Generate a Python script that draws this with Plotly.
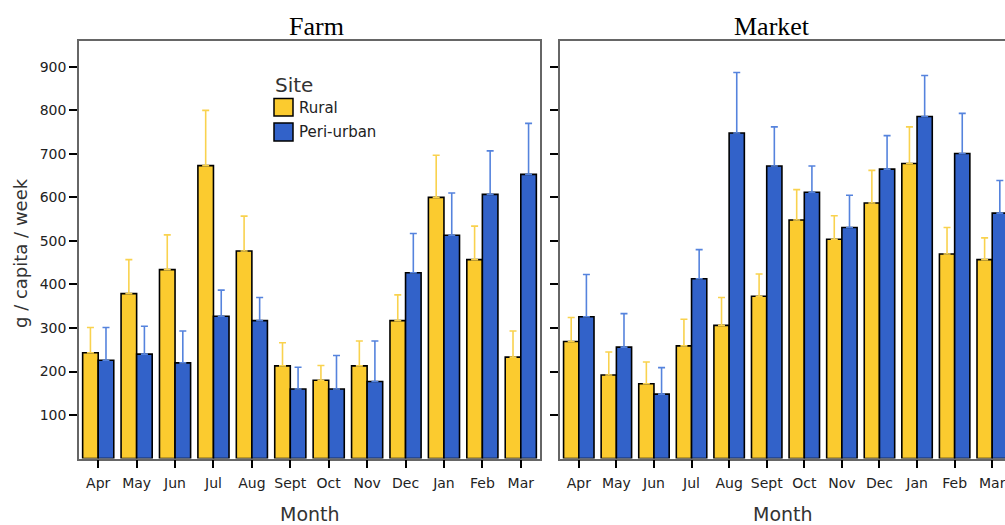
import plotly.graph_objects as go

months = ["Apr", "May", "Jun", "Jul", "Aug", "Sept", "Oct", "Nov", "Dec", "Jan", "Feb", "Mar"]

farm_rural = [243, 379, 434, 673, 477, 213, 180, 213, 317, 600, 457, 233]
farm_rural_upper = [301, 457, 514, 800, 557, 266, 214, 270, 376, 697, 534, 293]
farm_peri = [226, 240, 220, 327, 317, 160, 160, 177, 427, 513, 607, 653]
farm_peri_upper = [301, 304, 293, 387, 370, 210, 237, 270, 517, 610, 707, 770]

market_rural = [269, 192, 172, 259, 306, 373, 548, 504, 587, 678, 470, 457]
market_rural_upper = [324, 245, 222, 320, 370, 424, 618, 558, 662, 762, 531, 507]
market_peri = [326, 256, 148, 413, 748, 672, 612, 531, 665, 786, 701, 564]
market_peri_upper = [423, 333, 209, 480, 887, 762, 672, 605, 742, 880, 793, 639]

y_ticks = [100, 200, 300, 400, 500, 600, 700, 800, 900]

YEL = "#FBCB2F"
YEL_ERR = "#F9D24E"
BLU = "#3262C9"
BLU_ERR = "#5583DD"

W, H = 1005, 525
SANS = "DejaVu Sans, Verdana, sans-serif"
SERIF = "Liberation Serif, Times New Roman, serif"


def px(x):
    return x / W


def py(y):
    return 1 - y / H


fig = go.Figure()

panels = [
    ("x", "y", farm_rural, farm_rural_upper, farm_peri, farm_peri_upper),
    ("x2", "y2", market_rural, market_rural_upper, market_peri, market_peri_upper),
]
for xa, ya, r, ru, p, pu in panels:
    fig.add_trace(go.Bar(
        x=months, y=r, name="Rural", showlegend=False, xaxis=xa, yaxis=ya,
        marker=dict(color=YEL, line=dict(color="black", width=1.6)),
        error_y=dict(type="data", symmetric=False,
                     array=[u - v for u, v in zip(ru, r)], arrayminus=[0] * len(r),
                     color=YEL_ERR, thickness=1.6, width=3.5),
    ))
    fig.add_trace(go.Bar(
        x=months, y=p, name="Peri-urban", showlegend=False, xaxis=xa, yaxis=ya,
        marker=dict(color=BLU, line=dict(color="black", width=1.6)),
        error_y=dict(type="data", symmetric=False,
                     array=[u - v for u, v in zip(pu, p)], arrayminus=[0] * len(p),
                     color=BLU_ERR, thickness=1.6, width=3.5),
    ))

tick_font = dict(family=SANS, size=14, color="#222")
common_x = dict(showline=True, linecolor="#666", linewidth=1.5, mirror=True,
                ticks="outside", ticklen=8, tickwidth=2, tickcolor="black",
                tickfont=tick_font, showgrid=False, zeroline=False,
                ticklabelstandoff=3, fixedrange=True)
common_y = dict(range=[0, 960], tickvals=y_ticks, showline=True, linecolor="#666",
                linewidth=1.5, ticks="outside", ticklen=8, tickwidth=2,
                tickcolor="black", tickfont=tick_font, showgrid=False,
                zeroline=False, domain=[py(458.6), py(40.7)], fixedrange=True)

fig.update_layout(
    width=W, height=H,
    margin=dict(l=0, r=0, t=0, b=0),
    paper_bgcolor="white", plot_bgcolor="white",
    barmode="group", bargap=0.19, bargroupgap=0,
    xaxis=dict(domain=[px(79), px(540)], anchor="y", range=[-0.5, 11.5], **common_x),
    yaxis=dict(anchor="x", mirror=True, **common_y),
    xaxis2=dict(domain=[px(560), 1.0], anchor="y2", range=[-0.5, 11.34], **common_x),
    yaxis2=dict(anchor="x2", mirror=False, showticklabels=False, **common_y),
)

ann_font = dict(family=SANS, size=19, color="#333")
leg_font = dict(family=SANS, size=15, color="#222")
title_font = dict(family=SERIF, size=26, color="black")

annotations = [
    dict(text="Farm", x=px(316), y=py(26), font=title_font),
    dict(text="Market", x=px(772), y=py(26), font=title_font),
    dict(text="Month", x=px(310), y=py(514), font=ann_font),
    dict(text="Month", x=px(783), y=py(514), font=ann_font),
    dict(text="g / capita / week", x=px(21), y=py(253), textangle=-90,
         font=dict(family=SANS, size=18, color="#333")),
    dict(text="Site", x=px(273), y=py(85), xanchor="left",
         font=dict(family=SANS, size=20, color="#333")),
    dict(text="Rural", x=px(297), y=py(108), xanchor="left", font=leg_font),
    dict(text="Peri-urban", x=px(297), y=py(132), xanchor="left", font=leg_font),
]
for a in annotations:
    a.update(xref="paper", yref="paper", showarrow=False)
    a.setdefault("xanchor", "center")
    a.setdefault("yanchor", "middle")
fig.update_layout(annotations=annotations)

fig.add_shape(type="rect", xref="paper", yref="paper",
              x0=px(274), x1=px(293), y0=py(116), y1=py(98.5),
              fillcolor=YEL, line=dict(color="black", width=1.5))
fig.add_shape(type="rect", xref="paper", yref="paper",
              x0=px(274), x1=px(293), y0=py(141), y1=py(123),
              fillcolor=BLU, line=dict(color="black", width=1.5))

fig.write_html(
    "out.html",
    config={"displayModeBar": False},
    post_script="document.body.style.margin='0';document.body.style.padding='0';"
                "document.body.style.overflow='hidden';",
)
